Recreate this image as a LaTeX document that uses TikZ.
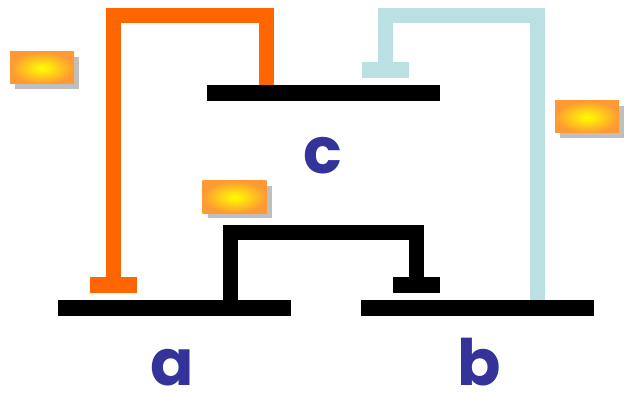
\documentclass[tikz,border=0pt]{standalone}
\usepackage{fontspec}
\setmainfont{Poppins}
\usetikzlibrary{shadows,calc}
\definecolor{ornge}{HTML}{FF6600}
\definecolor{paleblue}{HTML}{BBE0E3}
\definecolor{inkblue}{HTML}{333399}
\definecolor{chipedge}{HTML}{FF9933}
\begin{document}
\begin{tikzpicture}[x=1pt, y=-1pt,
    bar/.style = {fill=black, inner sep=0pt, minimum width=233pt, minimum height=16pt},
    tbar/.style = {inner sep=0pt, minimum width=47pt, minimum height=16pt},
    link/.style = {line width=15pt, line join=miter},
    chip/.style = {inner sep=0pt, minimum width=64pt, minimum height=32pt,
        inner color=yellow, outer color=chipedge,
        drop shadow={shadow xshift=5pt, shadow yshift=-5pt, fill=black!25, opacity=1}},
    letter/.style = {anchor=base, inner sep=0pt, text=inkblue, font=\fontsize{64}{64}\selectfont\bfseries}]
    \useasboundingbox (0,0) rectangle (624,393);
    % bars
    \node[bar] (c) at (323.5,93.5) {};
    \node[bar] (a) at (174,308) {};
    \node[bar] (b) at (477,308) {};
    % stoppers
    \node[tbar, fill=ornge] (tO) at (113,285) {};
    \node[tbar, fill=paleblue] (tB) at (385,70) {};
    \node[tbar, fill=black] (tK) at (416.5,285) {};
    % attach points
    \coordinate (top) at (0,15.5);
    \coordinate (mid) at (0,232);
    \coordinate (c1) at ($(c.north west)+(59.5,0)$);
    \coordinate (b1) at ($(b.north west)+(177,0)$);
    \coordinate (a1) at ($(a.north west)+(173,0)$);
    % links
    \draw[link, ornge] (tO) -- (tO |- top) -| (c1);
    \draw[link, paleblue] (tB) -- (tB |- top) -| (b1);
    \draw[link, black] (tK) -- (tK |- mid) -| (a1);
    % chips
    \node[chip] (k1) at (42,68) {};
    \node[chip] (k2) at (234.5,197) {};
    \node[chip] (k3) at (587,117) {};
    % labels
    \node[letter] (la) at (172,385) {a};
    \node[letter] (lb) at (479,385) {b};
    \node[letter] (lc) at (322.5,174) {c};
\end{tikzpicture}
\end{document}
